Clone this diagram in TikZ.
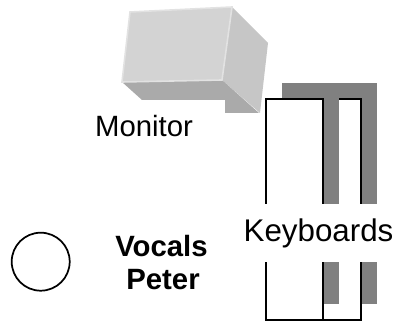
\documentclass[tikz,border=0pt]{standalone}
\usepackage{fontspec}
\setmainfont{Liberation Sans}
\definecolor{frontgray}{HTML}{D3D3D3}
\definecolor{edgegray}{HTML}{E2E2E2}
\definecolor{sidegray}{HTML}{C6C6C6}
\definecolor{bottomgray}{HTML}{AAAAAA}
\definecolor{shadowgray}{HTML}{808080}
\tikzset{
  keybox/.style={draw=black, fill=white, line width=1.5pt},
  singer/.style={draw=black, circle, line width=1.3pt, minimum size=43.5pt, inner sep=0pt},
  label/.style={anchor=base, inner sep=0pt}
}
\begin{document}
\begin{tikzpicture}[x=0.75pt, y=-0.75pt, font=\fontsize{22}{26}\selectfont]
        \useasboundingbox (0,0) rectangle (400,323);
        %画显示器
        \fill[sidegray] (232,7) -- (268,43) -- (260,113) -- (222,80) -- cycle;
        \fill[bottomgray] (122,82) -- (222,80) -- (259,113) -- (225,113) -- (225,100) -- (142,100) -- cycle;
        \filldraw[fill=frontgray, draw=edgegray, line width=1.2pt] (130,12) -- (232,7) -- (222,80) -- (122,82) -- cycle;
        \node[label] (monitor) at (144,137) {Monitor};
        %画键盘和阴影
        \foreach \xa/\xb in {323/361, 266/323}
        {
            \fill[shadowgray] (\xa+15.5,83) rectangle (\xb+15.5,304);
            \draw[keybox] (\xa,99) rectangle (\xb,320);
        };
        \node[fill=white, minimum height=44pt, font=\fontsize{23.5}{28}\selectfont] (keys) at (318.5,233) {Keyboards};
        %标歌手
        \node[singer] (singer) at (40.7,261.7) {};
        \node[label, font=\fontsize{22}{26}\selectfont\bfseries] (vocals) at (161.5,257) {Vocals};
        \node[label, font=\fontsize{22}{26}\selectfont\bfseries] (peter) at (163,290) {Peter};
        \end{tikzpicture}
\end{document}
